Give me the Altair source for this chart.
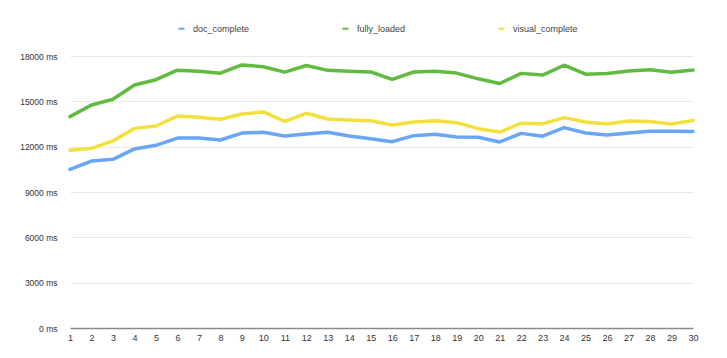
import altair as alt
import pandas as pd

runs = list(range(1, 31))
doc_complete = [10500, 11050, 11160, 11850, 12090, 12570, 12570, 12440, 12900, 12950,
                12710, 12840, 12950, 12710, 12530, 12330, 12730, 12820, 12640, 12620,
                12310, 12880, 12690, 13260, 12900, 12770, 12900, 13020, 13020, 13000]
fully_loaded = [13990, 14760, 15140, 16080, 16430, 17060, 16990, 16860, 17410, 17290,
                16930, 17370, 17050, 16990, 16940, 16450, 16940, 16990, 16870, 16490,
                16180, 16850, 16740, 17390, 16800, 16840, 17010, 17090, 16930, 17070]
visual_complete = [11760, 11890, 12380, 13210, 13370, 14030, 13940, 13810, 14160, 14300,
                   13680, 14210, 13830, 13770, 13720, 13430, 13630, 13720, 13590, 13190,
                   12970, 13550, 13520, 13920, 13630, 13500, 13700, 13660, 13500, 13740]
series_names = ["doc_complete", "fully_loaded", "visual_complete"]
series_colors = ["#6aa6f6", "#62bb41", "#f3e03c"]
y_ticks = [0, 3000, 6000, 9000, 12000, 15000, 18000]

rows = []
for name, vals in zip(series_names, [doc_complete, fully_loaded, visual_complete]):
    for r, v in zip(runs, vals):
        rows.append({"run": r, "value": v, "series": name})
df = pd.DataFrame(rows)

FONT = "Liberation Sans"

chart = alt.Chart(df).mark_line(strokeWidth=3.5, strokeJoin="round", strokeCap="round").encode(
    x=alt.X("run:Q",
            scale=alt.Scale(domain=[1, 30], nice=False, zero=False),
            axis=alt.Axis(title=None, values=runs, grid=False, ticks=False, domain=True,
                          domainColor="#8a8a8a", domainWidth=1.5, labelFontSize=9,
                          labelColor="#333333", labelPadding=5, labelFont=FONT,
                          labelFlush=False, labelOverlap=False)),
    y=alt.Y("value:Q",
            scale=alt.Scale(domain=[0, 18000], nice=False),
            axis=alt.Axis(title=None, values=y_ticks, grid=True, gridColor="#e8e8e8",
                          gridWidth=1, ticks=False, domain=False, labelFontSize=8.5,
                          labelColor="#333333", labelPadding=13, labelFont=FONT,
                          labelExpr="datum.value + ' ms'")),
    color=alt.Color("series:N",
                    scale=alt.Scale(domain=series_names, range=series_colors),
                    legend=alt.Legend(title=None, orient="none", direction="horizontal",
                                      legendX=107, legendY=-32, symbolType="stroke",
                                      symbolSize=36, symbolStrokeWidth=2,
                                      labelFontSize=9, labelFont=FONT,
                                      labelColor="#444444", labelOffset=7,
                                      columnPadding=88, padding=0)),
).properties(
    width=623, height=272,
    autosize=alt.AutoSizeParams(type="none"),
    padding={"left": 62, "top": 48, "right": 26, "bottom": 22},
).configure_view(stroke=None)

chart.save("out.html", embed_options={"renderer": "svg", "actions": False})
